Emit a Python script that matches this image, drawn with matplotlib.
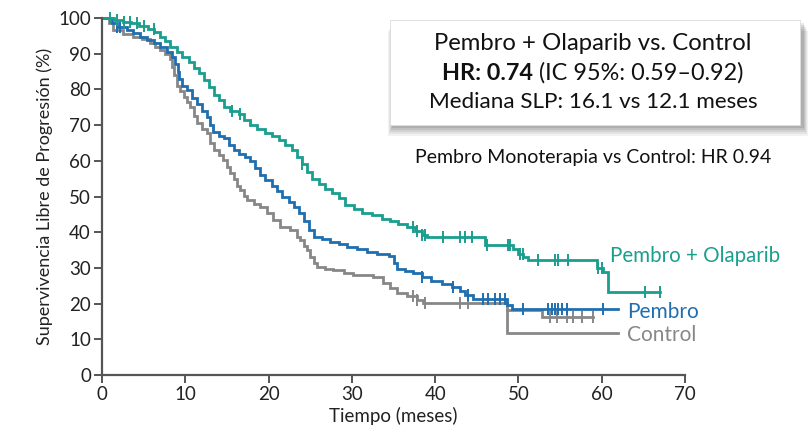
import numpy as np
import matplotlib
matplotlib.use("Agg")
import matplotlib.pyplot as plt
from matplotlib.patches import Rectangle

plt.rcParams['font.family'] = ['Lato', 'DejaVu Sans']

# ---------------- data ----------------
olap_t = [0, 1.5, 2.5, 3.5, 4.5, 5.5, 6.3, 7.0, 7.6, 8.2, 9.0, 9.6, 10.4, 11.0, 11.6, 12.2,
          12.8, 13.4, 14.0, 14.6, 15.4, 16.4, 17.0, 17.8, 18.6, 19.6, 20.4, 21.2, 22.0, 22.8,
          23.4, 24.0, 24.6, 25.2, 26.0, 26.8, 27.6, 28.4, 29.2, 30.2, 31.2, 32.4, 33.6, 34.6,
          35.6, 36.6, 37.6, 38.4, 39.0, 46.0, 49.4, 50.0, 50.6, 51.2, 59.4, 60.2, 60.8, 67.0]
olap_s = [100, 99.4, 99.0, 98.6, 97.8, 96.8, 96.0, 94.7, 93.5, 92.0, 90.5, 89.0, 87.7, 86.0, 84.6, 82.6,
          80.7, 78.5, 77.0, 75.0, 74.0, 73.0, 71.4, 70.0, 69.0, 67.8, 67.0, 65.8, 64.5, 63.0,
          61.0, 59.0, 57.0, 55.0, 53.5, 52.0, 51.0, 49.5, 47.5, 46.5, 45.5, 44.8, 43.8, 43.2,
          42.2, 41.5, 40.2, 39.2, 38.6, 36.4, 35.2, 34.0, 33.0, 32.2, 30.0, 28.9, 23.2, 23.2]
olap_cens = [1.0, 1.8, 2.6, 3.4, 4.2, 5.0, 6.2, 15.6, 16.6, 24.0, 37.3, 37.8, 38.4, 38.8,
             40.9, 43.0, 43.6, 44.4, 46.2, 48.7, 49.0, 50.2, 50.5, 52.4, 54.4, 54.7, 55.9,
             59.6, 60.0, 65.2, 67.0]

pem_t = [0, 1.2, 1.8, 3.0, 3.7, 4.6, 5.4, 6.2, 7.0, 7.8, 8.4, 8.8, 9.1, 9.3, 9.6, 10.2, 10.8,
         11.4, 12.0, 12.6, 13.0, 13.3, 14.0, 14.6, 15.2, 15.8, 16.4, 17.2, 17.8, 18.4, 19.0,
         19.6, 20.4, 21.0, 21.6, 22.4, 23.0, 23.6, 24.2, 24.8, 25.4, 26.4, 27.4, 28.4, 29.4,
         30.6, 31.8, 33.0, 34.4, 35.0, 35.4, 36.4, 37.3, 38.4, 39.5, 40.8, 42.0, 43.0, 43.6,
         44.5, 48.6, 49.2, 62.0]
pem_s = [100, 98.5, 97.5, 96.5, 95.7, 94.8, 93.8, 93.0, 92.0, 90.5, 89.0, 87.0, 85.0, 83.0, 81.0, 79.8, 77.5,
         76.0, 74.0, 72.3, 70.0, 68.0, 67.0, 66.4, 64.5, 63.0, 62.0, 61.0, 60.0, 58.0, 56.0,
         54.6, 53.0, 51.5, 50.0, 48.5, 47.0, 45.5, 43.0, 40.5, 38.7, 38.0, 37.3, 36.6, 35.9,
         35.2, 34.5, 34.0, 33.4, 31.5, 29.6, 29.0, 28.5, 27.5, 26.2, 25.4, 24.6, 23.4, 22.5,
         21.2, 19.7, 18.4, 18.4]
pem_cens = [1.8, 2.2, 38.4, 42.1, 44.0, 45.7, 46.4, 47.2, 47.8, 48.4, 50.5, 53.6, 54.0,
            54.4, 54.8, 55.2, 55.8, 60.1]

ctl_t = [0, 0.8, 1.3, 2.5, 3.7, 4.8, 5.8, 6.4, 7.0, 7.6, 8.2, 8.4, 8.7, 9.0, 9.4, 9.8, 10.2,
         10.6, 11.0, 11.4, 12.0, 12.6, 13.0, 13.4, 14.0, 14.5, 15.0, 15.4, 15.8, 16.2, 16.6,
         17.0, 17.4, 18.2, 19.0, 19.8, 20.5, 21.4, 22.6, 23.4, 23.8, 24.2, 24.6, 25.0, 25.4,
         25.8, 26.8, 27.7, 29.0, 30.1, 32.5, 33.7, 34.6, 35.4, 36.6, 37.8, 38.5, 48.6, 62.0]
ctl_s = [100, 98.5, 96.6, 95.5, 94.7, 94.0, 93.0, 92.0, 91.0, 90.0, 88.5, 86.3, 84.0, 81.0, 79.5, 77.9, 76.5,
         75.0, 72.5, 70.6, 69.0, 67.8, 65.0, 63.0, 61.5, 60.2, 58.3, 56.5, 55.0, 53.0, 51.8,
         50.2, 49.0, 48.0, 47.0, 45.5, 43.4, 41.5, 40.5, 38.7, 37.8, 36.2, 35.0, 33.0, 31.5,
         30.3, 29.8, 29.4, 28.6, 28.0, 27.5, 25.8, 24.5, 23.0, 22.0, 21.0, 20.2, 11.7, 11.7]
ctl_cens = [37.3, 37.8, 38.8, 43.0, 44.0]

ctl_tail_t = [48.6, 52.8, 59.0]
ctl_tail_s = [18.2, 16.3, 16.3]
ctl_tail_cens = [53.8, 54.6, 55.8, 56.5, 57.6, 59.0]

x_ticks = [0, 10, 20, 30, 40, 50, 60, 70]
y_ticks = [0, 10, 20, 30, 40, 50, 60, 70, 80, 90, 100]

C_OLAP = '#1a9e8e'
C_PEM = '#1f6fb0'
C_CTL = '#878787'


def step_at(t, times, surv):
    idx = np.searchsorted(np.asarray(times), t, side='right') - 1
    return np.asarray(surv)[idx]


fig = plt.figure(figsize=(8.08, 4.33), dpi=100)
ax = fig.add_axes([102 / 808, 1 - 375 / 433, (685 - 102) / 808, (375 - 18) / 433])

series = [
    (ctl_tail_t, ctl_tail_s, ctl_tail_cens, C_CTL),
    (ctl_t, ctl_s, ctl_cens, C_CTL),
    (pem_t, pem_s, pem_cens, C_PEM),
    (olap_t, olap_s, olap_cens, C_OLAP),
]
for t, s, cens, col in series:
    ax.plot(t, s, drawstyle='steps-post', color=col, lw=2.0, clip_on=False,
            solid_joinstyle='miter')
    cy = [step_at(c, t, s) for c in cens]
    ax.plot(cens, cy, ls='none', marker='|', ms=8, mew=1.4, color=col, clip_on=False)

ax.set_xlim(0, 70)
ax.set_ylim(0, 100)
ax.set_xticks(x_ticks)
ax.set_yticks(y_ticks)
for sp in ['top', 'right']:
    ax.spines[sp].set_visible(False)
for sp in ['left', 'bottom']:
    ax.spines[sp].set_color('#555555')
    ax.spines[sp].set_linewidth(1.6)
ax.tick_params(axis='both', direction='out', length=6, width=1.4, color='#555555',
               labelsize=13.5, labelcolor='#222222', pad=2)
ax.set_xlabel('Tiempo (meses)', fontsize=13.5, color='#222222', labelpad=3)
ax.set_ylabel('Supervivencia Libre de Progresión (%)', fontsize=13, color='#222222', labelpad=4)

# curve labels
ax.text(61.0, 33.4, 'Pembro + Olaparib', color=C_OLAP, fontsize=14.8, va='center', ha='left')
ax.text(63.0, 17.6, 'Pembro', color=C_PEM, fontsize=15, va='center', ha='left')
ax.text(63.0, 11.2, 'Control', color=C_CTL, fontsize=15, va='center', ha='left')

# annotation box with soft shadow (figure pixel coordinates)
W, H = 808.0, 433.0
bx0, bx1, by0, by1 = 390, 800, 20, 125
for i, a in enumerate([0.05, 0.06, 0.07, 0.08, 0.09]):
    off = 5 - i
    fig.patches.append(Rectangle(((bx0 + 3 - off) / W, 1 - (by1 + 6 + off - i) / H),
                                 (bx1 - bx0 + 2 * off) / W, (by1 - by0) / H,
                                 transform=fig.transFigure, facecolor='black',
                                 edgecolor='none', alpha=a, zorder=1))
fig.patches.append(Rectangle((bx0 / W, 1 - by1 / H), (bx1 - bx0) / W, (by1 - by0) / H,
                             transform=fig.transFigure, facecolor='white',
                             edgecolor='#dddddd', lw=0.6, zorder=2))
cx = 593 / W
fig.text(cx, 1 - 43 / H, 'Pembro + Olaparib vs. Control', ha='center', va='center',
         fontsize=17.2, color='#111111', zorder=3)
t1 = fig.text(cx, 1 - 73 / H, 'HR: 0.74', ha='right', va='center', fontsize=16.8,
              fontweight='bold', color='#111111', zorder=3)
renderer = fig.canvas.get_renderer()
t2 = fig.text(cx, 1 - 73 / H, ' (IC 95%: 0.59–0.92)', ha='left', va='center', fontsize=16.8,
              color='#111111', zorder=3)
w1 = t1.get_window_extent(renderer).width
w2 = t2.get_window_extent(renderer).width
left = 593 - (w1 + w2) / 2
t1.set_x((left + w1) / W)
t2.set_x((left + w1) / W)
fig.text(cx, 1 - 102 / H, 'Mediana SLP: 16.1 vs 12.1 meses', ha='center', va='center',
         fontsize=16.2, color='#111111', zorder=3)
fig.text(cx, 1 - 157 / H, 'Pembro Monoterapia vs Control: HR 0.94', ha='center', va='center',
         fontsize=14, color='#111111', zorder=3)

fig.savefig('out.png', dpi=100)
